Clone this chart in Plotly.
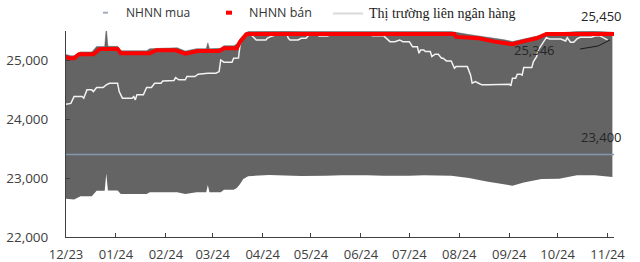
import plotly.graph_objects as go

# ---- data ----
band_dates = ["2023-12-01", "2023-12-04", "2023-12-06", "2023-12-10", "2023-12-17", "2023-12-20",
              "2023-12-25", "2023-12-26", "2023-12-27", "2024-01-02", "2024-01-04", "2024-01-20",
              "2024-01-22", "2024-02-08", "2024-02-13", "2024-02-20", "2024-02-26", "2024-02-27",
              "2024-02-28", "2024-03-06", "2024-03-08", "2024-03-14", "2024-03-16", "2024-03-18",
              "2024-03-20", "2024-03-23", "2024-04-05", "2024-04-15", "2024-04-25", "2024-05-10",
              "2024-05-20", "2024-06-05", "2024-06-15", "2024-07-01", "2024-07-10", "2024-07-27",
              "2024-08-07", "2024-08-18", "2024-08-29", "2024-09-03", "2024-09-10", "2024-09-21",
              "2024-10-02", "2024-10-13", "2024-10-24", "2024-10-30", "2024-11-04"]
band_floor = [22650, 22640, 22638, 22692, 22692, 22785,
              22785, 23077, 22791, 22791, 22730, 22730,
              22759, 22759, 22730, 22759, 22759, 22882,
              22759, 22759, 22802, 22802, 22833, 22900,
              22986, 23034, 23055, 23045, 23035, 23040,
              23050, 23050, 23040, 23040, 23050, 23040,
              23003, 22945, 22890, 22870, 22925, 22986,
              22990, 23048, 23048, 23034, 23020]
band_ceiling = [25100, 25080, 25080, 25145, 25145, 25235,
                25235, 25560, 25240, 25240, 25165, 25165,
                25200, 25215, 25160, 25200, 25200, 25300,
                25200, 25205, 25250, 25250, 25280, 25360,
                25440, 25490, 25495, 25495, 25490, 25490,
                25495, 25495, 25490, 25490, 25495, 25490,
                25440, 25400, 25350, 25320, 25360, 25430,
                25470, 25490, 25495, 25490, 25480]

sell_dates = ["2023-12-01", "2023-12-03", "2023-12-06", "2023-12-09", "2023-12-18", "2023-12-22",
              "2024-01-02", "2024-01-04", "2024-01-22", "2024-01-26", "2024-02-07", "2024-02-13",
              "2024-02-21", "2024-03-05", "2024-03-08", "2024-03-16", "2024-03-18", "2024-03-22",
              "2024-03-24", "2024-07-29", "2024-07-30", "2024-08-13", "2024-08-23", "2024-09-03",
              "2024-09-09", "2024-09-18", "2024-09-24", "2024-11-05"]
sell_values = [25060, 25037, 25037, 25105, 25105, 25195,
               25195, 25122, 25122, 25173, 25173, 25115,
               25161, 25161, 25207, 25207, 25319, 25445,
               25450, 25450, 25399, 25377, 25319, 25275,
               25319, 25377, 25450, 25450]

buy_dates = ["2023-12-01", "2024-11-05"]
buy_values = [23400, 23400]

ib_dates = ["2023-12-01", "2023-12-04", "2023-12-06", "2023-12-11", "2023-12-12", "2023-12-14",
            "2023-12-17", "2023-12-18", "2023-12-20", "2023-12-24", "2023-12-26", "2023-12-28",
            "2024-01-02", "2024-01-03", "2024-01-05", "2024-01-11", "2024-01-12", "2024-01-13",
            "2024-01-14", "2024-01-18", "2024-01-20", "2024-01-23", "2024-01-25", "2024-01-29",
            "2024-01-30", "2024-02-06", "2024-02-07", "2024-02-09", "2024-02-13", "2024-02-14",
            "2024-02-19", "2024-02-21", "2024-02-27", "2024-03-03", "2024-03-05", "2024-03-06",
            "2024-03-08", "2024-03-13", "2024-03-14", "2024-03-17", "2024-03-18", "2024-03-19",
            "2024-03-20", "2024-03-25", "2024-03-28", "2024-04-03", "2024-04-04", "2024-04-06",
            "2024-04-10", "2024-04-16", "2024-04-17", "2024-04-18", "2024-04-23", "2024-04-25",
            "2024-04-28", "2024-04-30", "2024-05-05", "2024-05-06", "2024-05-11", "2024-05-13",
            "2024-05-17", "2024-05-19", "2024-06-07", "2024-06-08", "2024-06-15", "2024-06-17",
            "2024-06-19", "2024-06-22", "2024-06-25", "2024-06-27", "2024-07-01", "2024-07-03",
            "2024-07-06", "2024-07-07", "2024-07-08", "2024-07-10", "2024-07-11", "2024-07-14",
            "2024-07-15", "2024-07-17", "2024-07-19", "2024-07-21", "2024-07-22", "2024-07-24",
            "2024-07-27", "2024-07-29", "2024-07-30", "2024-08-06", "2024-08-08", "2024-08-09",
            "2024-08-11", "2024-08-13", "2024-08-15", "2024-08-19", "2024-08-25", "2024-09-01",
            "2024-09-02", "2024-09-03", "2024-09-05", "2024-09-06", "2024-09-08", "2024-09-09",
            "2024-09-10", "2024-09-15", "2024-09-16", "2024-09-18", "2024-09-19", "2024-09-21",
            "2024-09-23", "2024-09-24", "2024-09-26", "2024-10-03", "2024-10-06", "2024-10-07",
            "2024-10-09", "2024-10-11", "2024-10-13", "2024-10-15", "2024-10-22", "2024-10-24",
            "2024-10-27", "2024-10-30", "2024-11-01"]
ib_values = [24257, 24270, 24386, 24386, 24359, 24500,
             24500, 24471, 24539, 24539, 24585, 24613,
             24613, 24471, 24359, 24359, 24386, 24330,
             24415, 24415, 24539, 24539, 24613, 24613,
             24652, 24660, 24708, 24670, 24670, 24725,
             24725, 24766, 24783, 24783, 24810, 25008,
             24970, 24970, 25037, 25040, 25263, 25377,
             25433, 25433, 25348, 25348, 25380, 25405,
             25440, 25440, 25377, 25348, 25348, 25377,
             25377, 25440, 25440, 25415, 25415, 25430,
             25430, 25445, 25445, 25421, 25421, 25377,
             25319, 25319, 25348, 25319, 25319, 25234,
             25234, 25122, 25178, 25178, 25150, 25150,
             25065, 25105, 25105, 25037, 25037, 24992,
             24992, 24868, 24895, 24895, 24754, 24613,
             24640, 24613, 24585, 24585, 24596, 24596,
             24570, 24698, 24698, 24766, 24766, 24750,
             24878, 24878, 24980, 25065, 25178, 25263,
             25348, 25387, 25365, 25365, 25331, 25387,
             25309, 25309, 25365, 25394, 25394, 25416,
             25420, 25377, 25348]

month_ticks = ["2023-12-01", "2024-01-01", "2024-02-01", "2024-03-01", "2024-04-01", "2024-05-01",
               "2024-06-01", "2024-07-01", "2024-08-01", "2024-09-01", "2024-10-01", "2024-11-01"]
month_labels = ["12/23", "01/24", "02/24", "03/24", "04/24", "05/24",
                "06/24", "07/24", "08/24", "09/24", "10/24", "11/24"]
y_ticks = [22000, 23000, 24000, 25000]

legend_names = ["NHNN mua", "NHNN bán", "Thị trường liên ngân hàng"]
value_labels = ["25,450", "25,346", "23,400"]

# ---- layout helpers (pixel -> paper) ----
W, H = 640, 262
L, R, T, B = 66, 26, 31, 25
def px(x):
    return (x - L) / (W - L - R)
def py(y):
    return (H - B - y) / (H - T - B)

GRAY = "#646464"
fig = go.Figure()
fig.add_trace(go.Scatter(x=band_dates, y=band_floor, mode="lines",
                         line=dict(width=0, color=GRAY), hoverinfo="skip", showlegend=False))
fig.add_trace(go.Scatter(x=band_dates, y=band_ceiling, mode="lines", fill="tonexty",
                         fillcolor=GRAY, line=dict(width=0.5, color=GRAY),
                         hoverinfo="skip", showlegend=False))
fig.add_trace(go.Scatter(x=buy_dates, y=buy_values, mode="lines", name=legend_names[0],
                         line=dict(color="#8497b0", width=1.5), showlegend=False))
fig.add_trace(go.Scatter(x=ib_dates, y=ib_values, mode="lines", name=legend_names[2],
                         line=dict(color="#f2f2f2", width=1.5), showlegend=False))
fig.add_trace(go.Scatter(x=sell_dates, y=sell_values, mode="lines", name=legend_names[1],
                         line=dict(color="#ff0000", width=4), showlegend=False))

shapes = [
    # legend keys
    dict(type="line", xref="paper", yref="paper", x0=px(103), x1=px(108), y0=py(12.7), y1=py(12.7),
         line=dict(color="#a3aebb", width=2)),
    dict(type="line", xref="paper", yref="paper", x0=px(226), x1=px(232), y0=py(12.7), y1=py(12.7),
         line=dict(color="#ff0000", width=4)),
    dict(type="line", xref="paper", yref="paper", x0=px(333), x1=px(363), y0=py(13.5), y1=py(13.5),
         line=dict(color="#d9d9d9", width=2)),
    # leader line
    dict(type="line", xref="paper", yref="paper", x0=px(580), x1=px(598), y0=py(49), y1=py(46),
         line=dict(color="#1a1a1a", width=1)),
    dict(type="line", xref="paper", yref="paper", x0=px(598), x1=px(610), y0=py(46), y1=py(40),
         line=dict(color="#1a1a1a", width=1)),
]

ann_font = dict(family="Open Sans", size=13, color="#262626")
annotations = [
    dict(text=legend_names[0], x=px(124), y=py(12.7), xref="paper", yref="paper",
         xanchor="left", yanchor="middle", showarrow=False,
         font=dict(family="Open Sans", size=12, color="#333333")),
    dict(text=legend_names[1], x=px(247), y=py(12.7), xref="paper", yref="paper",
         xanchor="left", yanchor="middle", showarrow=False,
         font=dict(family="Open Sans", size=12.5, color="#333333")),
    dict(text=legend_names[2], x=px(367), y=py(13.3), xref="paper", yref="paper",
         xanchor="left", yanchor="middle", showarrow=False,
         font=dict(family="Liberation Serif", size=14, color="#1a1a1a")),
    dict(text=value_labels[0], x=px(601), y=py(16), xref="paper", yref="paper",
         xanchor="center", yanchor="middle", showarrow=False, font=ann_font),
    dict(text=value_labels[1], x=px(534), y=py(50), xref="paper", yref="paper",
         xanchor="center", yanchor="middle", showarrow=False, font=ann_font),
    dict(text=value_labels[2], x=px(601), y=py(137), xref="paper", yref="paper",
         xanchor="center", yanchor="middle", showarrow=False, font=ann_font),
]

fig.update_layout(
    width=W, height=H,
    margin=dict(l=L, r=R, t=T, b=B, pad=0, autoexpand=False),
    paper_bgcolor="white", plot_bgcolor="white",
    font=dict(family="Open Sans", size=13, color="#404040"),
    showlegend=False,
    shapes=shapes,
    annotations=annotations,
    xaxis=dict(type="date", range=["2023-12-01", "2024-11-05"], automargin=False,
               tickmode="array", tickvals=month_ticks, ticktext=month_labels,
               ticks="inside", ticklen=4, tickcolor="#404040",
               showline=True, linecolor="#404040", linewidth=1,
               showgrid=False, zeroline=False, ticklabelstandoff=5,
               tickfont=dict(size=13, color="#404040")),
    yaxis=dict(range=[22000, 25500], tickmode="array", tickvals=y_ticks, tickformat=",d",
               automargin=False,
               ticks="inside", ticklen=4, tickcolor="#404040",
               showline=True, linecolor="#404040", linewidth=1,
               showgrid=False, zeroline=False, ticklabelstandoff=14,
               tickfont=dict(size=13.5, color="#404040")),
)

fig.write_html("out.html")
